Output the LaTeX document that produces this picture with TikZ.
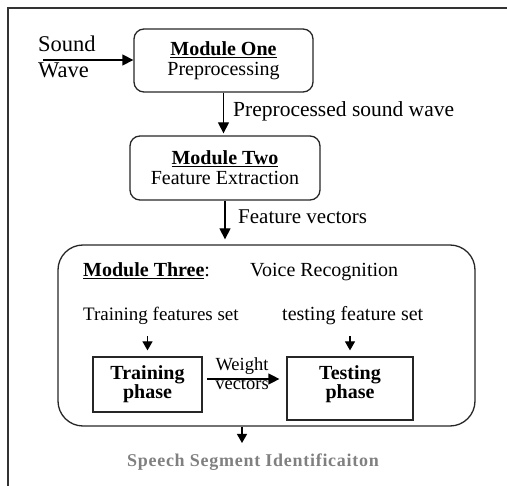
\documentclass[tikz,border=0pt]{standalone}
\usepackage{fontspec}
\setmainfont{Liberation Serif}
\usetikzlibrary{arrows.meta}
\newcommand\fsz[2][]{\fontsize{#2}{#2}\selectfont}
\tikzset{
  mod/.style={draw=black!85, line width=1.3pt, rounded corners=10pt, inner sep=0pt, align=center},
  phasebox/.style={draw=black!85, line width=1.2pt, inner sep=0pt},
  flow/.style={draw=black, line width=1.3pt, -{Triangle[length=11pt,width=11pt]}},
  smallflow/.style={draw=black, line width=1.2pt, -{Triangle[length=9pt,width=10pt]}},
  lbl/.style={inner sep=0pt, anchor=base west},
  ctr/.style={inner sep=0pt, anchor=base},
}
\begin{document}
\begin{tikzpicture}[x=1pt,y=-1pt]
\useasboundingbox (0,0) rectangle (507,486);
% page frame (top and left edges)
\draw[line width=2pt, black!80] (507,8) -- (8,8) -- (8,486);

% input
\node[lbl, font=\fsz{22.5}] (snd) at (38,52) {Sound};
\node[lbl, font=\fsz{22.5}] (wav) at (38,78) {Wave};
\coordinate (swin) at (43,60);

% module one
\node[mod, minimum width=179pt, minimum height=63pt, font=\fsz{20}] (m1) at (223.5,60.5)
  {\textbf{\underline{Module One}}\\Preprocessing};
\draw[flow] (swin) -- (m1.west |- swin);

% module two
\node[mod, minimum width=190pt, minimum height=64pt, font=\fsz{20}] (m2) at (225,168)
  {\textbf{\underline{Module Two}}\\Feature Extraction};
\draw[flow, shorten >=2pt] (m1.south) -- (m1.south |- m2.north);
\node[lbl, font=\fsz{21.5}] (l1) at (233,117) {Preprocessed sound wave};

% module three
\node[draw=black!85, line width=1.3pt, rounded corners=25pt, minimum width=417pt,
      minimum height=181pt, inner sep=0pt] (m3) at (266.5,335.5) {};
\draw[flow, shorten >=5pt] (m2.south) -- (m2.south |- m3.north);
\node[lbl, font=\fsz{21}] (l2) at (238,224) {Feature vectors};

\node[lbl, font=\fsz{20}] (t3) at (83,277) {\textbf{\underline{Module Three}}:};
\node[lbl, font=\fsz{20}] (vr) at (250,277) {Voice Recognition};
\node[lbl, font=\fsz{19}] (tfs) at (83,321) {Training features set};
\node[lbl, font=\fsz{20}] (efs) at (282,321) {testing feature set};

% training and testing phases
\node[phasebox, minimum width=109pt, minimum height=55pt, align=center,
      font=\bfseries\fontsize{20}{18}\selectfont] (tr) at (147.5,384.5) {Training\\phase};
\node[phasebox, minimum width=126pt, minimum height=63pt] (te) at (350,388.5) {};
\node[inner sep=0pt, align=center, font=\bfseries\fontsize{20}{18}\selectfont] (tet) at (350,384.5) {Testing\\phase};

\draw[smallflow] ([yshift=20pt]tr.north) -- ([yshift=6pt]tr.north);
\draw[smallflow] ([yshift=20pt]te.north) -- ([yshift=6pt]te.north);

\coordinate (wv) at (207,379);
\draw[flow] (wv) -- ([xshift=-7pt]te.west |- wv);
\node[ctr, font=\fsz{18.5}] (wt) at (242,371) {Weight};
\node[ctr, font=\fsz{18.5}] (vc) at (242,389.5) {vectors};

% output
\coordinate (out) at (242,443);
\draw[smallflow] (out |- m3.south) -- (out);
\node[ctr, text=black!50, font=\fsz{18}\bfseries\addfontfeature{LetterSpace=4}] (ssi) at (253,467)
  {Speech Segment Identificaiton};
\end{tikzpicture}
\end{document}
